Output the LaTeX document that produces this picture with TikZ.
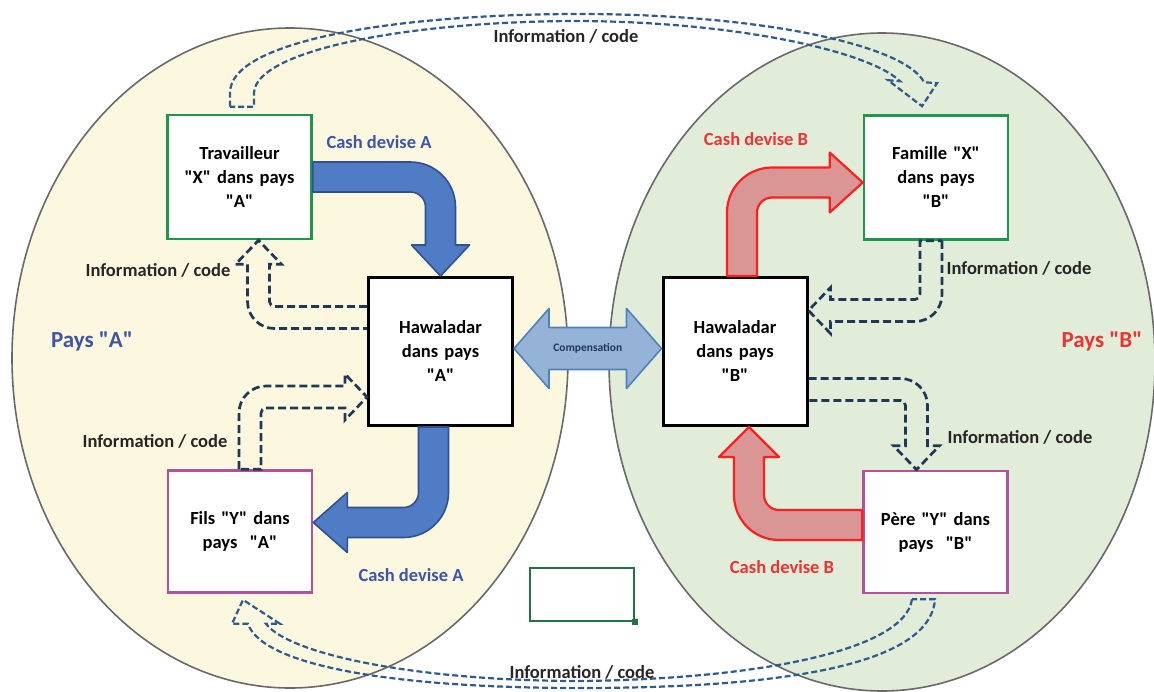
\documentclass[tikz,border=0pt]{standalone}
\usepackage{fontspec}
\newfontfamily\carlito{Carlito}
\usepackage{tikz}
\usetikzlibrary{calc}
\definecolor{paysAfill}{RGB}{252,248,224}
\definecolor{paysBfill}{RGB}{226,237,217}
\definecolor{ringgray}{RGB}{105,105,105}
\definecolor{cashblue}{RGB}{79,124,197}
\definecolor{cashblueedge}{RGB}{47,82,143}
\definecolor{cashred}{RGB}{218,150,148}
\definecolor{cashrededge}{RGB}{255,30,30}
\definecolor{compfill}{RGB}{149,179,215}
\definecolor{compedge}{RGB}{79,129,189}
\definecolor{infonavy}{RGB}{31,56,88}
\definecolor{infoblue}{RGB}{46,90,140}
\definecolor{boxgreen}{RGB}{30,150,75}
\definecolor{boxpink}{RGB}{180,80,160}
\definecolor{textblue}{RGB}{62,84,168}
\definecolor{textred}{RGB}{240,50,50}
\definecolor{cellgreen}{RGB}{33,115,70}

\tikzset{
    paysAring/.style={draw=ringgray, line width=1.6pt, fill=paysAfill},
    paysBring/.style={draw=ringgray, line width=1.6pt, fill=paysBfill},
    box/.style={draw, fill=white, line width=2.6pt, inner sep=0pt,
        minimum width=144pt, minimum height=124pt, text width=140pt, align=center,
        font=\carlito\fontsize{18.5}{24}\selectfont\bfseries},
    xbox/.style={box, draw=boxgreen},
    ybox/.style={box, draw=boxpink},
    hbox/.style={box, draw=black, line width=3pt, minimum height=148pt},
    cashA/.style={fill=cashblue, draw=cashblueedge, line width=1.6pt, line join=round},
    cashB/.style={fill=cashred, draw=cashrededge, line width=2.2pt, line join=round},
    info/.style={draw=infonavy, line width=2.7pt, dash pattern=on 8pt off 4pt},
    biginfo/.style={draw=infoblue, line width=2.2pt, dash pattern=on 6pt off 3pt},
    infotext/.style={text=black!85, font=\carlito\fontsize{18.5}{22}\selectfont\bfseries},
    cashtext/.style={font=\carlito\fontsize{18.5}{22}\selectfont\bfseries},
    paystext/.style={font=\carlito\fontsize{23}{26}\selectfont\bfseries}
}

% one "Information / code" label
\newcommand{\infolabel}[2]{
    \node[infotext] (#1) at (#2) {Information / code};
}

\begin{document}
\begin{tikzpicture}[x=1pt, y=-1pt]
    \useasboundingbox (0,0) rectangle (1154,691);
    \clip (0,0) rectangle (1154,691);
    \fill[white] (0,0) rectangle (1154,691);

    % the two countries
    \draw[paysAring] (290,358) ellipse [x radius=278pt, y radius=330pt];
    \draw[paysBring] (882,362) ellipse [x radius=273pt, y radius=329pt];

    % the people and the hawaladars
    \node[xbox] (trav) at (239.5,177) {Travailleur\\"X" dans pays\\"A"};
    \node[xbox] (fam) at (936,177.5) {Famille "X"\\dans pays\\"B"};
    \node[hbox] (hawA) at (440.5,351.5) {Hawaladar\\dans pays\\"A"};
    \node[hbox] (hawB) at (735,351.5) {Hawaladar\\dans pays\\"B"};
    \node[ybox, minimum height=122pt] (fils) at (240,531.5) {Fils "Y" dans\\pays~~"A"};
    \node[ybox, minimum height=122pt] (pere) at (935.5,532) {Père "Y" dans\\pays~~"B"};

    % empty selected cell
    \node[draw=cellgreen, line width=1.6pt, minimum width=104pt, minimum height=53pt] (cell) at (582,594.5) {};
    \fill[cellgreen] ([shift={(-3,-3)}]cell.south east) rectangle ++(6,6);

    % long information arrows between the countries
    \coordinate (st) at ([shift={(2.5,-7)}]trav.north);
    \coordinate (tt) at ([shift={(-14,-8)}]fam.north);
    \draw[biginfo] ($(st)+(-12,0)$) -- ($(st)+(-12,-14)$)
        .. controls (230,40) and (400,14) .. (580,14)
        .. controls (760,14) and (905,45) .. ($(tt)+(2,-24)$)
        -- ($(tt)+(15,-23)$) -- (tt) -- ($(tt)+(-34,-26)$) -- ($(tt)+(-22,-25)$)
        .. controls (870,52) and (740,22) .. (580,21)
        .. controls (410,21) and (256,50) .. ($(st)+(12,-14)$)
        -- ($(st)+(12,0)$) -- cycle;

    \coordinate (sb) at ([shift={(-12,5)}]pere.south);
    \coordinate (tb) at ([shift={(3,6)}]fils.south);
    \draw[biginfo] ($(sb)+(-11.5,0)$)
        .. controls (905,650) and (760,679) .. (580,681)
        .. controls (420,681) and (290,655) .. ($(tb)+(23,24)$)
        -- ($(tb)+(37,24)$) -- (tb) -- ($(tb)+(-11,24)$) -- ($(tb)+(5,24)$)
        .. controls (262,665) and (390,688) .. (580,688)
        .. controls (760,688) and (930,670) .. ($(sb)+(11.5,0)$) -- cycle;

    % cash in country A
    \coordinate (k1) at (hawA.north |- trav.east);
    \draw[cashA] ($(trav.east)+(0,-15)$) -- ($(k1)+(-30,-15)$) arc[start angle=90, end angle=0, radius=45pt]
        -- ($(hawA.north)+(15,-31)$) -- ($(hawA.north)+(29,-31)$) -- (hawA.north)
        -- ($(hawA.north)+(-29,-31)$) -- ($(hawA.north)+(-15,-31)$)
        -- ($(k1)+(-15,30)$) arc[start angle=0, end angle=90, radius=15pt]
        -- ($(trav.east)+(0,15)$) -- cycle;

    \coordinate (s2) at ([xshift=-7pt]hawA.south);
    \coordinate (t2) at ([yshift=9pt]fils.east);
    \coordinate (k2) at (s2 |- t2);
    \draw[cashA] ($(s2)+(-15,0)$) -- ($(s2)+(15,0)$) -- ($(k2)+(15,-30)$) arc[start angle=0, end angle=-90, radius=45pt]
        -- ($(t2)+(34,15)$) -- ($(t2)+(34,30)$) -- (t2) -- ($(t2)+(34,-30)$) -- ($(t2)+(34,-15)$)
        -- ($(k2)+(-30,-15)$) arc[start angle=-90, end angle=0, radius=15pt] -- cycle;

    % cash in country B
    \coordinate (s3) at ([xshift=7pt]hawB.north);
    \coordinate (t3) at ([yshift=-5pt]fam.west);
    \coordinate (k3) at (s3 |- t3);
    \draw[cashB] ($(s3)+(-15,0)$) -- ($(k3)+(-15,30)$) arc[start angle=180, end angle=90, radius=45pt]
        -- ($(t3)+(-33,-15)$) -- ($(t3)+(-33,-30)$) -- (t3) -- ($(t3)+(-33,30)$) -- ($(t3)+(-33,15)$)
        -- ($(k3)+(30,15)$) arc[start angle=90, end angle=180, radius=15pt]
        -- ($(s3)+(15,0)$) -- cycle;

    \coordinate (s4) at ([yshift=7pt]pere.west);
    \coordinate (t4) at ([xshift=14pt]hawB.south);
    \coordinate (k4) at (t4 |- s4);
    \draw[cashB] ($(s4)+(0,-15)$) -- ($(k4)+(30,-15)$) arc[start angle=-90, end angle=-180, radius=15pt]
        -- ($(t4)+(15,30)$) -- ($(t4)+(30,30)$) -- (t4) -- ($(t4)+(-30,30)$) -- ($(t4)+(-15,30)$)
        -- ($(k4)+(-15,-30)$) arc[start angle=180, end angle=270, radius=45pt]
        -- ($(s4)+(0,15)$) -- cycle;

    % compensation between the hawaladars
    \coordinate (cl) at ([yshift=3pt]hawA.east);
    \coordinate (cr) at ([yshift=3pt]hawB.west);
    \draw[fill=compfill, draw=compedge, line width=1.6pt, line join=round]
        (cl) -- ($(cl)+(35,-40)$) -- ($(cl)+(35,-21)$) -- ($(cr)+(-35,-21)$) -- ($(cr)+(-35,-40)$)
        -- (cr) -- ($(cr)+(-35,40)$) -- ($(cr)+(-35,21)$) -- ($(cl)+(35,21)$) -- ($(cl)+(35,40)$) -- cycle;
    \node[text=infonavy, font=\carlito\fontsize{11.5}{13}\selectfont\bfseries] (comp) at ($(cl)!0.5!(cr)$) {Compensation};

    % information / code in country A
    \coordinate (s5) at ([yshift=34pt]hawA.west);
    \coordinate (t5) at ([xshift=19pt]trav.south);
    \coordinate (k5) at (t5 |- s5);
    \draw[info] ($(s5)+(0,-11)$) -- ($(k5)+(16,-11)$) arc[start angle=-90, end angle=-180, radius=5pt]
        -- ($(t5)+(11,24)$) -- ($(t5)+(23,24)$) -- (t5) -- ($(t5)+(-23,24)$) -- ($(t5)+(-11,24)$)
        -- ($(k5)+(-11,-16)$) arc[start angle=180, end angle=270, radius=27pt] -- ($(s5)+(0,11)$);

    \coordinate (s6) at ([xshift=10pt]fils.north);
    \coordinate (t6) at ([yshift=-45.5pt]hawA.west);
    \coordinate (k6) at (s6 |- t6);
    \draw[info] ($(s6)+(-11,0)$) -- ($(k6)+(-11,16)$) arc[start angle=180, end angle=90, radius=27pt]
        -- ($(t6)+(-22,-11)$) -- ($(t6)+(-22,-23)$) -- (t6) -- ($(t6)+(-22,23)$) -- ($(t6)+(-22,11)$)
        -- ($(k6)+(16,11)$) arc[start angle=90, end angle=180, radius=5pt] -- ($(s6)+(11,0)$) -- cycle;

    % information / code in country B
    \coordinate (s7) at ([xshift=-5pt]fam.south);
    \coordinate (t7) at ([yshift=41pt]hawB.east);
    \coordinate (k7) at (s7 |- t7);
    \draw[info] ($(s7)+(11,0)$) -- ($(k7)+(11,-16)$) arc[start angle=0, end angle=-90, radius=27pt]
        -- ($(t7)+(22,11)$) -- ($(t7)+(22,23)$) -- (t7) -- ($(t7)+(22,-23)$) -- ($(t7)+(22,-11)$)
        -- ($(k7)+(-16,-11)$) arc[start angle=-90, end angle=0, radius=5pt] -- ($(s7)+(-11,0)$) -- cycle;

    \coordinate (s8) at ([yshift=-38pt]hawB.east);
    \coordinate (t8) at ([xshift=-19pt]pere.north);
    \coordinate (k8) at (t8 |- s8);
    \draw[info] ($(s8)+(0,-11)$) -- ($(k8)+(-16,-11)$) arc[start angle=90, end angle=0, radius=27pt]
        -- ($(t8)+(11,-24)$) -- ($(t8)+(23,-24)$) -- (t8) -- ($(t8)+(-23,-24)$) -- ($(t8)+(-11,-24)$)
        -- ($(k8)+(-11,16)$) arc[start angle=0, end angle=90, radius=5pt] -- ($(s8)+(0,11)$);

    % labels
    \infolabel{infoTop}{566,36}
    \infolabel{infoBot}{582,672}
    \infolabel{infoA1}{158,270}
    \infolabel{infoA2}{155,441}
    \infolabel{infoB1}{1019,268}
    \infolabel{infoB2}{1020,437}
    \node[cashtext, text=textblue] (cashA1) at (379,142) {Cash devise A};
    \node[cashtext, text=textblue] (cashA2) at (411,575) {Cash devise A};
    \node[cashtext, text=textred] (cashB1) at (756,139) {Cash devise B};
    \node[cashtext, text=textred] (cashB2) at (782,567) {Cash devise B};
    \node[paystext, text=textblue] (paysA) at (92,341) {Pays "A"};
    \node[paystext, text=textred] (paysB) at (1102,341) {Pays "B"};
\end{tikzpicture}
\end{document}
